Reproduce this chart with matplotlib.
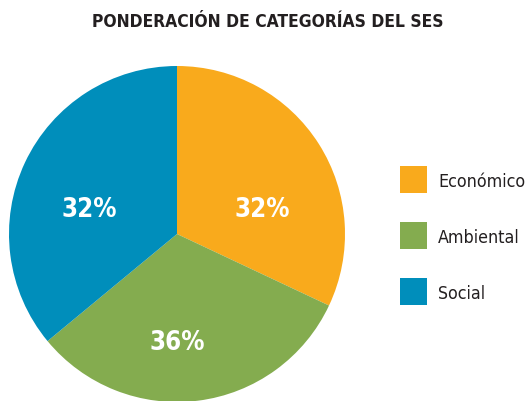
import matplotlib
matplotlib.use("Agg")
import matplotlib.pyplot as plt
from matplotlib.patches import Rectangle

title = "PONDERACIÓN DE CATEGORÍAS DEL SES"
categories = ["Económico", "Ambiental", "Social"]
# wedge sizes as drawn in the picture, and the percentages printed on them
wedge_sizes = [32, 32, 36]
pct_labels = ["32%", "36%", "32%"]
colors = ["#F9AA1C", "#84AC4F", "#008EBB"]
# where the percentage labels sit inside the pie (data coords)
label_pos = [(0.51, 0.15), (0.0, -0.64), (-0.52, 0.15)]

plt.rcParams['font.family'] = ['DejaVu Sans']
plt.rcParams['font.stretch'] = 'condensed'

fig = plt.figure(figsize=(5.26, 4.02), dpi=100)
W, H = 526, 402

# pie centred at (177, 235) px from top, radius 168 px
cx, cy, r = 177, 402 - 235, 168
ax = fig.add_axes([(cx - r) / W, (cy - r) / H, 2 * r / W, 2 * r / H])
wedges, texts = ax.pie(wedge_sizes, colors=colors, startangle=90, counterclock=False, radius=1.0)
for lab, pos in zip(pct_labels, label_pos):
    ax.text(pos[0], pos[1], lab, ha="center", va="center", color="white",
            fontsize=18.5, fontweight="bold", fontstretch="condensed")
ax.set_xlim(-1, 1)
ax.set_ylim(-1, 1)
ax.set_aspect("equal")
ax.axis("off")

fig.text(268 / W, 1 - 22 / H, title, ha="center", va="center",
         fontsize=12.5, fontweight="bold", fontstretch="condensed", color="#231F20")

# legend drawn by hand: square + label
for i, (cat, col) in enumerate(zip(categories, colors)):
    top = 167 + i * 56
    fig.patches.append(Rectangle((400 / W, 1 - (top + 27) / H), 27 / W, 27 / H,
                                 transform=fig.transFigure, facecolor=col, edgecolor="none"))
    fig.text(438 / W, 1 - (top + 15) / H, cat, ha="left", va="center",
             fontsize=12.8, fontstretch="condensed", color="#231F20")

fig.savefig("out.png", dpi=100)
